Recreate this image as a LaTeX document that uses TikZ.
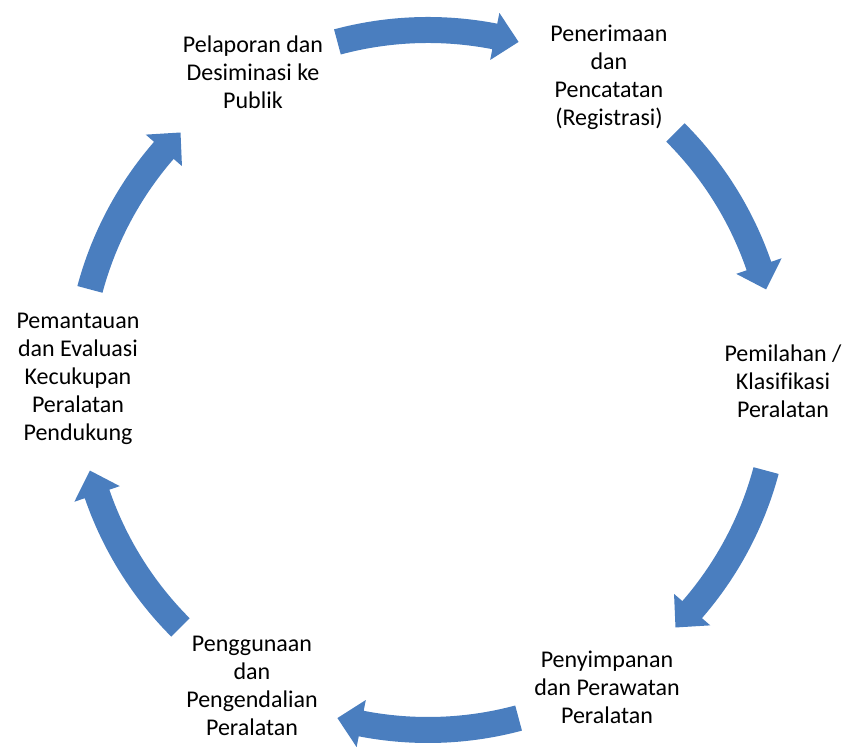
\documentclass[tikz,border=0pt]{standalone}
\usepackage{fontspec}
\setmainfont[Ligatures=NoCommon]{Carlito}
\usetikzlibrary{calc}

\begin{document}
\begin{tikzpicture}[x=1pt, y=1pt,
    stageText/.style={align=center, inner sep=0pt, text=black,
        font=\fontsize{24}{28}\selectfont}]
    % Define cycle scale
    \def\cycleRadius{350}
    \def\shaftHalf{13}
    \def\headHalf{24}
    \def\headAngle{4}

    \definecolor{arrowColour}{HTML}{4A7EBF}

    % Fix the canvas
    \useasboundingbox (0,0) rectangle (849,754);

    % Define the centre of the cycle
    \coordinate (center) at (428,374);

    % Draw the curved block arrows
    \foreach \midAngle in {90,30,-30,-90,-150,150} {
        \pgfmathsetmacro{\startA}{\midAngle+15}
        \pgfmathsetmacro{\endA}{\midAngle-15}
        \pgfmathsetmacro{\baseA}{\endA+\headAngle}
        \pgfmathsetmacro{\rOut}{\cycleRadius+\shaftHalf}
        \pgfmathsetmacro{\rIn}{\cycleRadius-\shaftHalf}
        \pgfmathsetmacro{\rWingOut}{\cycleRadius+\headHalf}
        \pgfmathsetmacro{\rWingIn}{\cycleRadius-\headHalf}
        \fill[arrowColour, shift={(center)}]
            (\startA:\rOut) arc[start angle=\startA, end angle=\baseA, radius=\rOut]
            -- (\baseA:\rWingOut) -- (\endA:\cycleRadius) -- (\baseA:\rWingIn)
            -- (\baseA:\rIn) arc[start angle=\baseA, end angle=\startA, radius=\rIn]
            -- cycle;
    }

    % Label the stages
    \node[stageText] (pelaporan) at (253,682) {Pelaporan dan\\Desiminasi ke\\Publik};
    \node[stageText] (penerimaan) at (609,677) {Penerimaan\\dan\\Pencatatan\\(Registrasi)};
    \node[stageText] (pemilahan) at (783,373) {Pemilahan /\\Klasifikasi\\Peralatan};
    \node[stageText] (penyimpanan) at (607,67) {Penyimpanan\\dan Perawatan\\Peralatan};
    \node[stageText] (penggunaan) at (252,68) {Penggunaan\\dan\\Pengendalian\\Peralatan};
    \node[stageText] (pemantauan) at (78,375) {Pemantauan\\dan Evaluasi\\Kecukupan\\Peralatan\\Pendukung};

\end{tikzpicture}
\end{document}
